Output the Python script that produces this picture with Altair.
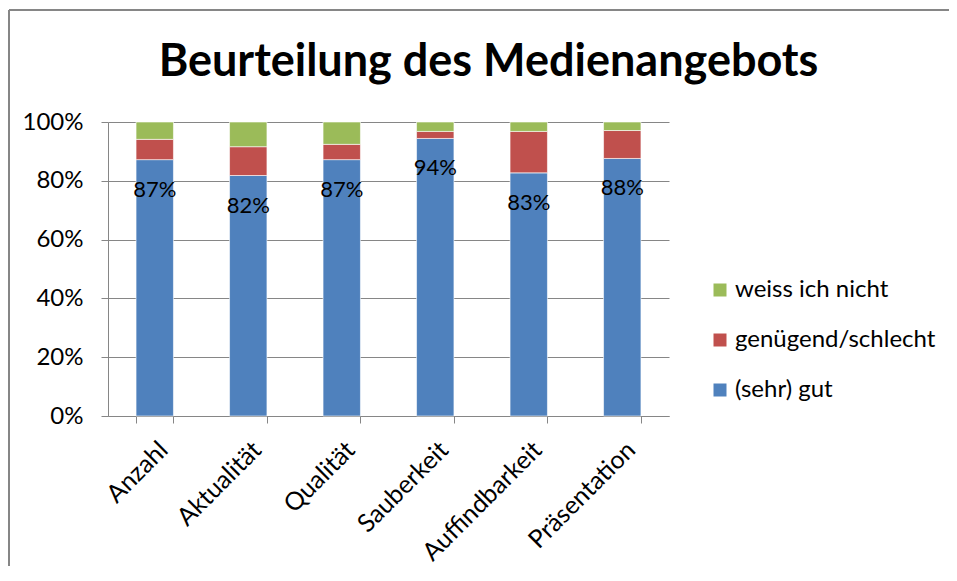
import altair as alt
import pandas as pd

categories = ["Anzahl", "Aktualität", "Qualität", "Sauberkeit", "Auffindbarkeit", "Präsentation"]
gut = [87.2, 81.8, 87.2, 94.4, 82.7, 87.6]
schlecht = [6.9, 9.8, 5.2, 2.4, 14.1, 9.5]
weiss = [5.9, 8.4, 7.6, 3.2, 3.2, 2.9]
series = ["(sehr) gut", "genügend/schlecht", "weiss ich nicht"]
colors = ["#4F81BD", "#C0504D", "#9BBB59"]
y_ticks = [0, 20, 40, 60, 80, 100]
title_text = "Beurteilung des Medienangebots"

rows = []
for i, cat in enumerate(categories):
    for k, (name, vals) in enumerate(zip(series, [gut, schlecht, weiss])):
        rows.append({"Kategorie": cat, "Serie": name, "Wert": vals[i], "ord": k,
                     "label": f"{round(vals[i])}%"})
df = pd.DataFrame(rows)

FONT = "Lato"
GRAY = "#868686"

x_enc = alt.X("Kategorie:N", sort=categories,
              scale=alt.Scale(paddingInner=0.6, paddingOuter=0.3),
              axis=alt.Axis(title=None, labelAngle=-45, labelAlign="right",
                            labelBaseline="top", labelFontSize=25, labelFont=FONT,
                            labelColor="black", tickBand="extent", tickSize=7,
                            tickColor=GRAY, domainColor=GRAY, labelPadding=14,
                            grid=False))

bars = alt.Chart(df).mark_bar(stroke="white", strokeWidth=0.6).encode(
    x=x_enc,
    y=alt.Y("Wert:Q", stack="zero",
            scale=alt.Scale(domain=[0, 100], nice=False),
            axis=alt.Axis(values=y_ticks, labelExpr="datum.value + '%'", title=None,
                          grid=True, gridColor=GRAY, domainColor=GRAY, tickColor=GRAY,
                          tickSize=7, labelFontSize=24, labelFont=FONT,
                          labelColor="black", labelPadding=18)),
    color=alt.Color("Serie:N",
                    scale=alt.Scale(domain=series[::-1], range=colors[::-1]),
                    legend=alt.Legend(title=None, orient="none", legendX=600, legendY=156,
                                      symbolType="square", symbolSize=169,
                                      symbolStrokeWidth=0, labelFontSize=24,
                                      labelFont=FONT, labelColor="black", labelLimit=400,
                                      rowPadding=26, labelOffset=3)),
    order=alt.Order("ord:Q", sort="ascending"),
)

labels = alt.Chart(df).transform_filter(
    alt.datum.Serie == series[0]
).mark_text(fontSize=22, font=FONT, color="black", dy=30, baseline="middle").encode(
    x=alt.X("Kategorie:N", sort=categories),
    y=alt.Y("Wert:Q"),
    text="label:N",
)

frame_df = pd.DataFrame({"k": [0]})
frame_top = alt.Chart(frame_df).mark_rule(color=GRAY, strokeWidth=2).encode(
    x=alt.value(-99), x2=alt.value(841), y=alt.value(-112))
frame_left = alt.Chart(frame_df).mark_rule(color=GRAY, strokeWidth=2).encode(
    x=alt.value(-99), y=alt.value(-112), y2=alt.value(700))

chart = alt.layer(bars, labels, frame_top, frame_left).properties(
    width=561, height=294,
    autosize=alt.AutoSizeParams(type="none"),
    padding={"left": 100, "top": 114, "right": 280, "bottom": 150},
    title=alt.Title(title_text, fontSize=45, font=FONT, fontWeight="bold",
                    color="black", anchor="middle", frame="group", dx=100, offset=-112,
                    baseline="alphabetic"),
    background="white",
).configure_view(stroke=None)

chart.save("out.html", embed_options={"renderer": "svg", "actions": False})
